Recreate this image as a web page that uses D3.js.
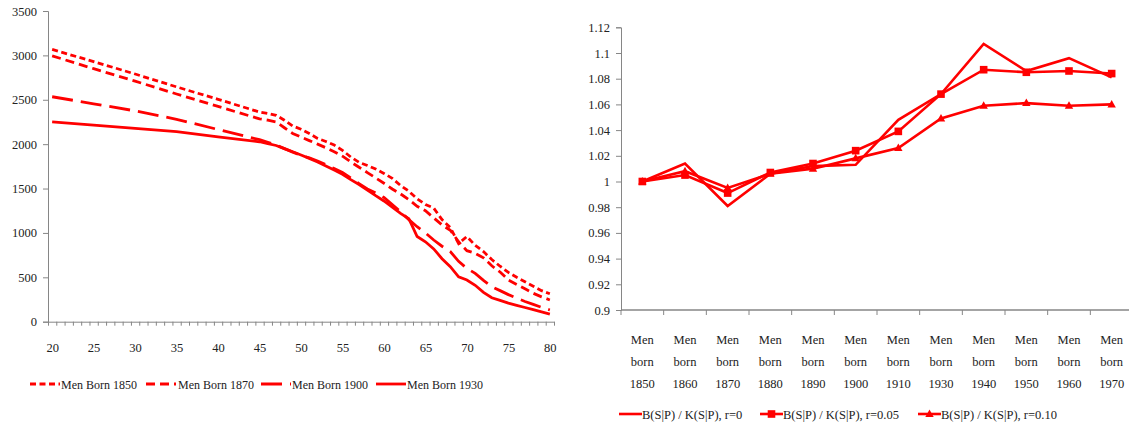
<!DOCTYPE html>
<html>
<head>
<meta charset="utf-8">
<script src="https://cdn.jsdelivr.net/npm/d3@7"></script>
<style>
  body { margin: 0; background: #fff; }
  svg { display: block; }
  .axis path, .axis line { stroke: #868686; }
</style>
</head>
<body>
<svg id="chart" width="1129" height="428"></svg>
<script>
// ---- left panel data (ages on a category axis, yearly from 45) ----
var ages = [20, 25, 30, 35, 40, 45, 46, 47, 48, 49, 50, 51, 52, 53, 54, 55, 56, 57, 58, 59, 60,
  61, 62, 63, 64, 65, 66, 67, 68, 69, 70, 71, 72, 73, 74, 75, 76, 77, 78, 79, 80];
var men1850 = [3067, 2930, 2790, 2645, 2505, 2362, 2345, 2325, 2270, 2205, 2168, 2120, 2065, 2030, 1990, 1930, 1855, 1795, 1760, 1720, 1670,
  1615, 1535, 1470, 1385, 1320, 1280, 1150, 1060, 880, 960, 860, 790, 700, 625, 555, 500, 450, 400, 350, 315];
var men1870 = [2995, 2850, 2710, 2565, 2425, 2285, 2270, 2250, 2185, 2120, 2080, 2040, 2000, 1960, 1915, 1865, 1800, 1740, 1680, 1620, 1560,
  1495, 1440, 1375, 1300, 1250, 1170, 1090, 1030, 900, 800, 770, 720, 630, 560, 470, 420, 370, 320, 280, 245];
var men1900 = [2534, 2455, 2375, 2280, 2165, 2050, 2020, 1990, 1950, 1910, 1875, 1845, 1810, 1770, 1725, 1680, 1620, 1555, 1495, 1450, 1400,
  1320, 1240, 1150, 1070, 1000, 920, 850, 790, 680, 600, 545, 465, 395, 350, 305, 265, 228, 195, 162, 132];
var men1930 = [2252, 2215, 2178, 2140, 2083, 2027, 2005, 1985, 1950, 1915, 1877, 1840, 1800, 1755, 1708, 1660, 1600, 1545, 1483, 1420, 1360,
  1290, 1220, 1160, 960, 900, 820, 710, 620, 505, 470, 410, 330, 270, 240, 210, 185, 160, 135, 110, 85];
var leftNames = ["Men Born 1850", "Men Born 1870", "Men Born 1900", "Men Born 1930"];
var leftTicks = [0, 500, 1000, 1500, 2000, 2500, 3000, 3500];
var ageLabels = [20, 25, 30, 35, 40, 45, 50, 55, 60, 65, 70, 75, 80];

// ---- right panel data ----
var cohorts = ["1850", "1860", "1870", "1880", "1890", "1900", "1910", "1930", "1940", "1950", "1960", "1970"];
var ratioR0  = [1.000, 1.014, 0.981, 1.006, 1.012, 1.013, 1.048, 1.068, 1.107, 1.086, 1.096, 1.081];
var ratioR05 = [1.000, 1.005, 0.991, 1.007, 1.014, 1.024, 1.039, 1.068, 1.087, 1.085, 1.086, 1.084];
var ratioR10 = [1.000, 1.008, 0.995, 1.006, 1.010, 1.018, 1.026, 1.049, 1.059, 1.061, 1.059, 1.060];
var rightNames = ["B(S|P) / K(S|P), r=0", "B(S|P) / K(S|P), r=0.05", "B(S|P) / K(S|P), r=0.10"];
var rightTicks = [0.9, 0.92, 0.94, 0.96, 0.98, 1, 1.02, 1.04, 1.06, 1.08, 1.1, 1.12];

var red = "#ff0000";
var svg = d3.select("#chart");

// ================= left chart =================
var xL = d3.scaleLinear().domain([19.5, 80.5]).range([48, 554]);
var yL = d3.scaleLinear().domain([0, 3500]).range([321.7, 11]);
var gL = svg.append("g");

gL.append("g").attr("class", "axis")
  .attr("transform", "translate(48,0)")
  .call(d3.axisLeft(yL).tickValues(leftTicks).tickSize(5).tickPadding(6).tickFormat(d3.format("d")))
  .call(function(g) { g.selectAll("text").style("font-size", "12.5px"); });

gL.append("g").attr("class", "axis")
  .attr("transform", "translate(0,321.7)")
  .call(d3.axisBottom(xL).tickValues(d3.range(19.5, 81, 1)).tickSize(4).tickSizeOuter(0).tickFormat(""));

gL.append("g").attr("class", "axis")
  .attr("transform", "translate(0,321.7)")
  .call(d3.axisBottom(xL).tickValues(ageLabels).tickSize(0).tickPadding(21))
  .call(function(g) {
    g.select(".domain").remove();
    g.selectAll("text").style("font-size", "12.5px");
  });

var leftSeries = [men1850, men1870, men1900, men1930];
var leftDash = ["6,3.5", "9,5", "21,8", null];
var lineL = d3.line().x(function(d) { return xL(d[0]); }).y(function(d) { return yL(d[1]); });

leftSeries.forEach(function(vals, i) {
  var pts = ages.map(function(a, j) { return [a, vals[j]]; });
  gL.append("path")
    .attr("d", lineL(pts))
    .attr("fill", "none")
    .attr("stroke", red)
    .attr("stroke-width", 2.8)
    .attr("stroke-dasharray", leftDash[i]);
});

// left legend
var legL = [30, 146, 261, 376];
leftNames.forEach(function(name, i) {
  var g = gL.append("g").attr("transform", "translate(" + legL[i] + ",384)");
  g.append("line").attr("x1", 0).attr("x2", 30).attr("y1", 0).attr("y2", 0)
    .attr("stroke", red).attr("stroke-width", 2.8).attr("stroke-dasharray", leftDash[i]);
  g.append("text").attr("x", i == 1 ? 32 : 31).attr("y", 4.5).style("font-size", "12px").text(name);
});

// ================= right chart =================
var xR = d3.scaleBand().domain(cohorts).range([621, 1133]).padding(0);
var yR = d3.scaleLinear().domain([0.9, 1.12]).range([310, 27.3]);
var gR = svg.append("g");

gR.append("g").attr("class", "axis")
  .attr("transform", "translate(621,0)")
  .call(d3.axisLeft(yR).tickValues(rightTicks).tickSize(5).tickPadding(6)
    .tickFormat(function(d) { return String(+d.toFixed(2)); }))
  .call(function(g) { g.selectAll("text").style("font-size", "12.5px"); });

var bounds = cohorts.map(function(c) { return xR(c); }).concat([1133]);
var xAx = gR.append("g").attr("class", "axis");
xAx.append("line").attr("x1", 621).attr("x2", 1133).attr("y1", 310).attr("y2", 310)
  .attr("stroke", "#868686").attr("stroke-width", 1.5);
xAx.selectAll("line.tk").data(bounds).enter().append("line").attr("class", "tk")
  .attr("x1", function(d) { return d; }).attr("x2", function(d) { return d; })
  .attr("y1", 310).attr("y2", 315).attr("stroke", "#868686");

var lab = gR.selectAll("text.cat").data(cohorts).enter().append("text")
  .attr("class", "cat")
  .attr("text-anchor", "middle")
  .style("font-size", "12.5px");
["Men", "born", null].forEach(function(w, k) {
  lab.append("tspan")
    .attr("x", function(d) { return xR(d) + xR.bandwidth() / 2; })
    .attr("y", 343.5 + k * 22)
    .text(function(d) { return w || d; });
});

var cx = function(i) { return xR(cohorts[i]) + xR.bandwidth() / 2; };
var lineR = d3.line().x(function(d, i) { return cx(i); }).y(function(d) { return yR(d); });
var rightSeries = [ratioR0, ratioR05, ratioR10];
var markers = [null, "square", "triangle"];

function drawMarker(g, type, x, y) {
  if (type == "square") {
    g.append("rect").attr("x", x - 3.8).attr("y", y - 3.8).attr("width", 7.6).attr("height", 7.6).attr("fill", red);
  } else if (type == "triangle") {
    g.append("path").attr("d", "M" + x + "," + (y - 4.5) + "L" + (x + 4.2) + "," + (y + 3) + "L" + (x - 4.2) + "," + (y + 3) + "Z").attr("fill", red);
  }
}

rightSeries.forEach(function(vals, s) {
  gR.append("path").attr("d", lineR(vals))
    .attr("fill", "none").attr("stroke", red).attr("stroke-width", 2.6).attr("stroke-linejoin", "miter");
  if (markers[s]) {
    vals.forEach(function(v, i) { drawMarker(gR, markers[s], cx(i), yR(v)); });
  }
});

// right legend
var legR = [619, 760, 918];
rightNames.forEach(function(name, i) {
  var g = gR.append("g").attr("transform", "translate(" + legR[i] + ",414)");
  g.append("line").attr("x1", 0).attr("x2", 23).attr("y1", 0).attr("y2", 0)
    .attr("stroke", red).attr("stroke-width", 2.6);
  drawMarker(g, markers[i], 11.5, 0);
  g.append("text").attr("x", 23).attr("y", 4.5).style("font-size", "12.5px").text(name);
});

// one serif face for every label, overriding the axis defaults
svg.selectAll("g").attr("font-family", null);
svg.selectAll("text").style("font-family", "Liberation Serif").attr("fill", "#222");
</script>
</body>
</html>
